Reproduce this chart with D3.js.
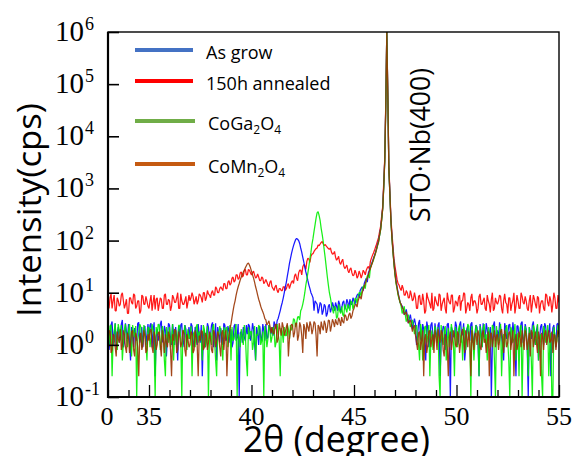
<!DOCTYPE html>
<html>
<head>
<meta charset="utf-8">
<script src="https://cdn.jsdelivr.net/npm/d3@7"></script>
<style>
  html, body { margin: 0; padding: 0; background: #fff; }
  svg { display: block; }
</style>
</head>
<body>
<svg id="chart" width="573" height="456"></svg>
<script>
// ---------- DATA ----------
// Main samples: 2θ = 33.0 .. 55.0 in 0.1° steps (221 values)
// Mid samples:  2θ = 33.05 .. 54.95 in 0.1° steps (220 values)
const thetaStart = 33.0;
const thetaStep = 0.1;

const asGrown = [
  2,1.2,2.8,1.5,0.9,2.2,1.4,3,1.1,1.8,
  2.5,0.5,1.6,2.1,1.2,2.7,1.4,0.9,2.3,1.6,
  1.3,2.6,1.8,0.25,2,1.5,2.9,1.1,1.9,1.4,
  2.4,1,1.7,2.2,0.5,1.5,2.6,1.2,2,1.6,
  1.3,2.3,0.9,1.8,2.5,1.1,0.25,1.9,1.4,2.2,
  1.5,2.7,1.2,0.5,1.7,2.1,1,2.4,1.3,1.8,
  2,1.1,2.5,1.4,0.1,1.8,2.2,1.2,1.6,2.3,
  1.5,2,0.5,1.7,2.3,1.2,1.9,2.5,1.4,2.1,
  2.2,2.8,2,3.2,4.5,6.5,10,16,27,45,
  68,92,110,100,72,48,31,21,14,10,
  8,7,6,5,6,4.5,5.5,4,6,5,
  5.5,6.5,4.5,6,5,7,5.5,6.5,7.5,6,
  7,8,9.5,11,13,15,19,24,31,40,
  52,70,100,170,420,3500,1000000,2500,250,65,
  24,13,8,6,5,4.2,3.6,3.2,2.8,2.6,
  2.5,1.5,3,1.2,2,0.5,2.2,1.4,2.7,1.1,
  1.8,2.4,0.25,1.6,2.1,1.3,2.6,0.1,1.9,1.5,
  2.3,1.2,2.8,1.6,0.5,2,1.4,2.5,1.1,1.7,
  2.2,0.25,1.8,2.6,1.3,2,1.5,0.1,2.4,1.2,
  1.9,2.7,1.4,0.5,2.1,1.6,2.5,1.1,1.8,0.25,
  2.3,1.5,2.8,1.2,2,0.1,1.7,2.4,1.3,1.9,
  0.5,2.2,1.6,2.6,1.1,1.8,0.25,2.1,1.4,2.5,
  1.7
];
const asGrownMid = [
  0.8,2.4,1,2.6,1.7,1.1,2.5,0.9,2.6,1.3,
  1.2,2.2,0.9,1.5,2.6,1.1,2.2,1.9,1,2.5,
  2.4,0.9,2.7,1.4,1.2,2.5,1.2,2.3,0.6,2.6,
  1.3,2.5,1,1.4,2.3,2.4,0.9,2.4,1.1,2.2,
  2.6,1.2,2.2,1,1.6,2.4,1.5,0.9,2.6,1.3,
  2.4,0.9,2.6,2.2,1.1,1.4,2.6,1.2,2.3,1.1,
  0.9,2.3,1.2,2.5,1.7,1.1,1.4,2.4,2.5,1.2,
  2.6,1.1,2.2,1,1.4,2.5,1.2,1.3,2.4,1.6,
  1.5,2.4,2.9,3.8,5.5,8,13,21,36,56,
  80,104,106,88,60,39,25,17,12,9,
  4.5,6.5,4,6.5,3.8,6,3.5,5.5,4.2,6.5,
  4.5,5.5,7,4.2,6.5,4.8,7.5,5,6,8,
  6,9,8,12,11,17,16,27,35,46,
  60,85,130,260,1100,40000,60000,800,120,38,
  17,10,6.5,5.5,3.8,4.8,2.6,3.8,2,3.2,
  1,2.6,1.3,2.5,1.1,2.8,0.9,2.4,1.5,2.6,
  1.2,2.7,1.1,2.3,0.8,2.5,1.2,2.2,1.4,2.8,
  1,2.4,1.5,2.6,0.9,2.3,1.2,2.7,1.3,2.4,
  1.1,2.5,0.9,1.6,2.6,1.2,2.2,1,2.8,1.4,
  1.2,2.2,0.9,2.6,1.3,2.4,1,2.7,1.2,2.3,
  1.4,2.6,1.1,2.5,0.9,2.2,1.3,2.8,1,2.4,
  1.2,2.5,1,2.3,1.5,2.6,1.1,2.4,0.9,2.6
];

const annealed150h = [
  6,8,5,9,4.5,7,6,10,5,7.5,
  4,8,6,9,5.5,7,4.5,8.5,6,7,
  5,9,6.5,4.8,8,6,7.5,5,9.5,6,
  7,5.5,8,6.5,10,5,7,6,8.5,6.5,
  7,10,6,8.5,7,9,6.5,10,8,9.5,
  8,11,9,12,10,13,11,15,12,17,
  15,20,17,22,19,25,21,28,22,27,
  22,26,19,23,17,20,15,18,14,16,
  13,11,14,10,12,11,13,12,15,14,
  17,21,19,24,27,31,33,40,44,50,
  56,66,72,80,92,86,84,74,68,60,
  56,48,45,38,40,33,31,27,28,24,
  22,24,21,23,22,25,27,32,40,52,
  65,85,115,190,450,3800,1000000,2700,280,80,
  32,18,14,11,12,9,10,8,9,7.5,
  8,5,9,6,7,4.5,8,6,10,5,
  7,5.5,9,6,8,4,7.5,6,9,5,
  6.5,8,4.5,7,9.5,5,6,8,5.5,7,
  4,8.5,6,7,5,9,6,7.5,4.5,8,
  6,9,5,7,6.5,4,8,6,10,5.5,
  7,5,8.5,6,7,4.5,9,6,7.5,5,
  8,6,7,4.5,9,5.5,7,6,8,5,
  6.5
];
const annealed150hMid = [
  5,9.5,7,4.5,8,5.5,9,7,6,4,
  8,6.5,9.5,5,7,4,9,6,8.5,5.5,
  7,4.5,9,7.5,4.5,8,5,9,6,7.5,
  4.5,9,6.5,8,5,9.5,6,7,5,9,
  8,8.5,7,6,9.5,8,10,7,11,9,
  10,9,13,10,12,12,15,12,16,14,
  19,16,22,18,24,20,27,22,28,24,
  24,22,20,20,17,19,16,16,13,17,
  12,13,11,12,11,13,11,14,12,16,
  15,23,17,27,22,35,28,46,38,55,
  62,70,82,86,96,80,78,70,72,55,
  62,42,50,35,44,29,34,24,30,21,
  27,19,26,19,27,22,30,28,46,58,
  75,100,150,300,1300,45000,70000,900,140,45,
  24,15,12,14,9,11,8,11,7,10,
  5,8.5,6,9.5,4,10,7,5,4.5,8.5,
  6,9.5,4.5,7,5,10,6.5,9,4.2,7,
  5.5,9,7,10,4,6.5,4.5,9.5,7,6,
  5,9.5,6,8,4.5,7,4.2,10,5,6.5,
  7,8.5,4,9.5,6,8,4.5,7,4,9,
  5,10,6.5,8.5,5,7,4.2,9,6,8.5,
  4,7,5,9.5,6.5,8.5,4.2,10,5,9
];

const coGa2O4 = [
  1.6,2.3,0.25,1.8,1.2,2.5,1.5,0.5,2,1.3,
  1.9,1.1,2.4,1.4,0.1,1.7,2.2,1.2,1.8,0.5,
  2.1,1.4,1.9,0.1,1.6,2.4,1.1,1.8,0.25,1.5,
  2.2,1.3,0.5,1.9,1.5,2.3,0.1,1.7,1.2,2,
  1.4,0.25,1.8,2.2,1.1,1.6,0.5,2,1.3,0.1,
  1.7,2.1,1.2,0.25,1.5,1.9,0.5,1.3,2.2,1.6,
  0.5,1.2,1.8,0.1,1.4,2,1,1.6,0.25,1.3,
  1.8,1.1,0.5,1.5,2.1,1.2,0.1,1.7,1.3,1.9,
  1.4,2,1.1,1.6,0.25,1.8,2.2,1.5,2,2.4,
  2.2,3,2.6,3.5,4.5,6,10,18,32,60,
  110,200,340,300,170,95,45,20,10,6,
  4,5,3.5,4.5,5.5,3.5,5,6,4.5,6.5,
  6,7.5,8.5,10,12,14,18,22,30,38,
  50,68,95,160,400,3300,1000000,2400,240,60,
  22,12,7.5,5.5,4.5,3.8,3.2,2.8,2.5,2.3,
  2,1.3,0.5,1.8,1.1,2.3,1.5,0.25,1.9,1.2,
  1.6,2.2,0.1,1.4,1.8,0.5,2.1,1.3,1.7,0.25,
  1.5,2,1.1,0.5,1.8,1.4,2.3,0.1,1.6,1.2,
  1.9,0.25,1.5,2.1,1.1,0.5,1.7,1.3,2.2,0.1,
  1.4,1.8,0.25,1.6,2,1.2,0.1,1.9,1.3,0.5,
  1.7,2.1,0.1,1.4,1.8,0.25,1.5,0.1,2,1.2,
  0.5,1.6,0.1,1.9,1.3,0.25,1.7,0.1,1.5,1.2,
  1.4
];
const coGa2O4Mid = [
  1,2.4,1.3,2.6,0.8,1.9,2.4,1.1,2.5,0.9,
  2.5,0.6,1.7,2.3,1.2,2.5,0.9,2.4,1.1,2.2,
  0.9,2.5,1,2.2,2.5,0.8,2.3,0.5,2.2,1.1,
  0.9,2.5,1.6,0.9,2.4,1.2,1.9,2.4,0.8,1.3,
  2.3,1.5,0.9,2.5,1.8,1.2,2.4,0.9,2.3,1.6,
  1,2.5,0.5,1.8,2.3,1.1,2.2,2,0.9,2.4,
  2.2,1.3,2.5,1.6,0.9,1.4,2.4,0.5,2.2,1.8,
  0.8,2.3,1.6,2.4,1,1.8,2.3,0.9,2.4,1.1,
  2.2,0.9,2.5,1.2,2.1,1.1,1.5,2.4,1.3,1.9,
  3.2,2.2,3.4,3,5,7.5,14,24,45,85,
  150,270,360,240,130,65,30,14,8,4.8,
  5.5,3.2,6,4,3.8,6,4.2,5.2,7,4.8,
  7.8,6.2,10,8.5,13,12,21,19,34,42,
  58,80,125,250,1000,35000,55000,750,110,35,
  15,9,6.5,4,5.5,2.8,3.8,2.2,3,1.6,
  2.4,1,2.5,0.5,2.2,1.1,2.4,1.3,0.8,2.3,
  1.1,0.25,2.4,1,2.3,1.2,0.9,2.5,1.1,2.2,
  0.9,2.4,1.6,2.2,0.8,2.5,1.1,2.3,0.5,2.4,
  1.2,2.3,0.9,2.5,1.6,2.2,0.9,2.4,0.5,2.3,
  1,2.5,1.2,0.9,2.4,0.5,2.2,1.1,2.5,1.3,
  0.25,2.4,1.1,2.3,0.9,2.2,0.5,2.4,1,2.5,
  1.2,0.25,2.3,1.1,2.4,0.9,0.1,2.2,1,2.4
];

const coMn2O4 = [
  1.2,1.8,0.8,1.5,0.6,1.3,2,1,1.6,0.7,
  1.4,1.1,1.9,0.6,1.3,0.25,1.7,1,1.5,0.8,
  1.2,2,0.7,1.4,1,1.8,0.6,1.3,1.6,0.9,
  1.5,0.25,1.2,1.9,0.8,1.4,1.1,1.7,0.6,1.3,
  1,1.6,0.8,1.4,0.25,1.2,1.8,0.9,1.5,1.1,
  1.3,0.7,1.7,1.2,1.5,0.6,1.9,1.4,0.25,1.5,
  2.5,4.5,7,11,15,20,25,30,36,34,
  26,19,13,9,6.5,4.8,3.8,3,2.6,2.3,
  2.2,1.6,2.5,1.3,2,2.7,1.5,2.2,0.6,1.9,
  2.4,1.7,2.6,1.5,2.3,0.7,2.1,2.7,1.8,2.4,
  2,2.6,0.6,2.2,2.8,1.9,2.5,2.1,2.9,2.3,
  2.7,3.1,2.4,2.9,3.4,2.6,3.6,3.1,4.1,3.6,
  5,6,7,8.5,10,13,17,22,29,38,
  50,68,95,165,410,3400,1000000,2450,245,62,
  23,12.5,8,6,4.8,4,3.3,2.8,2.4,2.2,
  1.5,0.8,1.8,1.2,0.25,1.6,1,1.9,1.3,0.7,
  1.4,2,1.1,1.7,0.6,1.3,0.25,1.8,1.2,1.5,
  0.9,1.6,1.1,2,0.7,1.4,1.8,0.25,1.2,1.6,
  1,1.5,0.8,1.9,1.3,1.1,0.25,1.7,1.4,0.9,
  1.6,1.2,2,0.7,1.5,1.1,1.8,1.3,0.25,1.6,
  1,1.4,1.9,0.8,1.5,1.2,0.6,1.7,1.3,1.1,
  1.8,0.25,1.4,1.6,1,1.9,1.2,0.7,1.5,1.3,
  1.6
];
const coMn2O4Mid = [
  1.9,0.7,1.6,0.9,1.8,1.1,0.8,1.9,0.9,1.7,
  0.7,1.8,0.8,1.7,0.9,1.4,0.8,1.9,0.7,1.6,
  1.9,0.9,1.8,0.8,1.7,1,1.9,0.7,1.1,1.8,
  0.8,1.6,2,0.7,1.8,0.9,1.9,0.8,1.6,0.9,
  1.8,0.7,1.9,1,1.5,1.9,0.8,1.7,0.8,1.8,
  0.8,1.9,0.9,1.8,0.9,1.7,0.8,1.9,0.9,2,
  3.4,5.8,9,13,17.5,22,27,33,37,30,
  22,16,11,7.5,5.5,4.3,3.2,2.4,2.9,1.7,
  1.7,2.4,1.1,2.6,1.5,2.2,1.8,2.6,1.3,2.5,
  1.4,2.6,1.2,2.7,1.5,2.5,1.3,2.2,2.8,1.6,
  2.8,1.5,2.4,1.6,2.2,2.9,1.7,3,1.8,3.1,
  2.2,2.6,3.3,2.3,2.8,3.8,2.9,3.8,3.2,4.5,
  5.8,5.3,8,7.5,11.5,15,19,26,33,44,
  57,82,130,255,1050,38000,58000,780,115,36,
  16,9.5,6.5,5.2,3.8,4.3,2.6,3,1.8,2.4,
  1.1,1.7,0.8,1.9,1.3,0.7,1.8,0.9,1.6,1.9,
  0.8,1.5,1.9,0.8,1.6,0.9,1.4,0.8,1.9,1,
  1.8,0.7,1.7,1.3,1.9,0.9,1.1,1.9,0.8,1.7,
  1.9,0.9,1.6,1.1,0.7,1.8,1.6,0.9,1.9,1.5,
  0.8,1.8,1.3,1.9,0.9,1.7,0.8,1.9,1.2,0.8,
  1.8,0.9,1.2,1.9,0.8,1.7,1.9,0.9,1.8,0.7,
  1.3,1.7,0.8,1.9,1.4,1.1,1.8,1.6,0.8,1.9
];

const seriesNames = ["As grow", "150h annealed", "CoGa2O4", "CoMn2O4"];
const yTickValues = [1e-1, 1e0, 1e1, 1e2, 1e3, 1e4, 1e5, 1e6];
const yTickExponents = ["-1", "0", "1", "2", "3", "4", "5", "6"];
const xTickValues = d3.range(33, 56);      // 33 .. 55, every degree
const xMajorLabels = {33: "0", 35: "35", 40: "40", 45: "45", 50: "50", 55: "55"};
const peakLabel = "STO·Nb(400)";

// ---------- checks ----------
[[asGrown, asGrownMid], [annealed150h, annealed150hMid], [coGa2O4, coGa2O4Mid], [coMn2O4, coMn2O4Mid]]
  .forEach((p, k) => {
    if (p[0].length !== 221) throw new Error(seriesNames[k] + " main length " + p[0].length);
    if (p[1].length !== 220) throw new Error(seriesNames[k] + " mid length " + p[1].length);
  });

// ---------- layout ----------
const svg = d3.select("#chart");
const L = 108, R = 559, T = 32, B = 397;
const x = d3.scaleLinear().domain([33, 55]).range([L, R]);
const y = d3.scaleLog().domain([0.1, 1e6]).range([B, T]);

svg.append("rect").attr("width", 573).attr("height", 456).attr("fill", "#fff");
svg.append("defs").append("clipPath").attr("id", "plotclip")
  .append("rect").attr("x", L).attr("y", T).attr("width", R - L).attr("height", B - T);

// ---------- data lines ----------
function toPoints(main, mid) {
  const pts = [];
  main.forEach((v, i) => {
    pts.push([thetaStart + i * thetaStep, v]);
    if (i < mid.length) pts.push([thetaStart + (i + 0.5) * thetaStep, mid[i]]);
  });
  return pts;
}
const line = d3.line().x(d => x(d[0])).y(d => y(Math.max(d[1], 0.1)));

const drawOrder = [
  {main: annealed150h, mid: annealed150hMid, color: "#ff0000"},
  {main: asGrown, mid: asGrownMid, color: "#0000ff"},
  {main: coGa2O4, mid: coGa2O4Mid, color: "#00ee00"},
  {main: coMn2O4, mid: coMn2O4Mid, color: "#993300"}
];
const gLines = svg.append("g").attr("clip-path", "url(#plotclip)");
drawOrder.forEach(s => {
  gLines.append("path")
    .attr("d", line(toPoints(s.main, s.mid)))
    .attr("fill", "none")
    .attr("stroke", s.color)
    .attr("stroke-width", 1.25)
    .attr("stroke-linejoin", "bevel")
    .attr("stroke-opacity", 0.9);
});

// ---------- axes ----------
const xAxis = d3.axisBottom(x).tickValues(xTickValues).tickSize(-7).tickFormat("");
const gx = svg.append("g").attr("transform", `translate(0,${B})`).call(xAxis);
gx.select(".domain").remove();
gx.selectAll(".tick line")
  .attr("stroke", "#000").attr("stroke-width", 1.3)
  .attr("y2", d => (d % 5 === 0 ? -12 : -7));

svg.append("g").selectAll("text").data(xTickValues.filter(d => xMajorLabels[d] !== undefined))
  .join("text")
  .attr("x", d => x(d) - (d === 33 ? 1 : 0))
  .attr("y", 425)
  .attr("text-anchor", "middle")
  .attr("font-family", "'Liberation Serif', 'Times New Roman', serif")
  .attr("font-size", 26)
  .attr("fill", "#000")
  .text(d => xMajorLabels[d]);

const yAxis = d3.axisLeft(y).tickValues(yTickValues).tickSize(-11).tickFormat("");
const gy = svg.append("g").attr("transform", `translate(${L},0)`).call(yAxis);
gy.select(".domain").remove();
gy.selectAll(".tick line").attr("stroke", "#000").attr("stroke-width", 1.6);

const yl = svg.append("g").selectAll("text").data(yTickValues).join("text")
  .attr("x", 55)
  .attr("y", d => y(d) + 9)
  .attr("font-family", "'Liberation Serif', 'Times New Roman', serif")
  .attr("fill", "#000");
yl.append("tspan").attr("font-size", 29).text("10");
yl.append("tspan").attr("font-size", 18).attr("dx", 1).attr("dy", -11)
  .text((d, i) => yTickExponents[i]);

// frame
svg.append("rect").attr("x", L).attr("y", T).attr("width", R - L).attr("height", B - T)
  .attr("fill", "none").attr("stroke", "#000").attr("stroke-width", 1.4);
svg.append("line").attr("x1", L).attr("x2", L).attr("y1", T).attr("y2", B + 1)
  .attr("stroke", "#000").attr("stroke-width", 2.2);
svg.append("line").attr("x1", L - 1).attr("x2", R).attr("y1", B).attr("y2", B)
  .attr("stroke", "#000").attr("stroke-width", 2.2);

// ---------- titles ----------
const sans = "'Open Sans', 'Noto Sans', sans-serif";
svg.append("text")
  .attr("x", 243).attr("y", 452)
  .attr("font-family", sans).attr("font-size", 36)
  .attr("textLength", 187).attr("lengthAdjust", "spacingAndGlyphs")
  .attr("fill", "#000")
  .text("2θ (degree)");

svg.append("text")
  .attr("transform", "translate(41,210) rotate(-90)")
  .attr("text-anchor", "middle")
  .attr("font-family", sans).attr("font-size", 33)
  .attr("textLength", 214).attr("lengthAdjust", "spacingAndGlyphs")
  .attr("fill", "#000")
  .text("Intensity(cps)");

svg.append("text")
  .attr("transform", "translate(430,145) rotate(-90)")
  .attr("text-anchor", "middle")
  .attr("font-family", sans).attr("font-size", 27)
  .attr("textLength", 154).attr("lengthAdjust", "spacingAndGlyphs")
  .attr("fill", "#000")
  .text(peakLabel);

// ---------- legend ----------
const legendColors = ["#4472c4", "#ff0000", "#70ad47", "#c55a11"];
const legendLineY = [50, 81, 121, 164];
const gLeg = svg.append("g");
seriesNames.forEach((name, i) => {
  gLeg.append("line")
    .attr("x1", 135).attr("x2", i < 2 ? 193 : 195)
    .attr("y1", legendLineY[i]).attr("y2", legendLineY[i])
    .attr("stroke", legendColors[i]).attr("stroke-width", 4);
  const t = gLeg.append("text")
    .attr("x", i < 2 ? 206 : 208).attr("y", legendLineY[i] + 9)
    .attr("font-family", sans).attr("font-size", 18).attr("fill", "#000");
  const m = name.match(/^(Co(?:Ga|Mn))2O4$/);
  if (m) {
    t.append("tspan").text(m[1]);
    t.append("tspan").attr("font-size", 12).attr("dy", 4).text("2");
    t.append("tspan").attr("dy", -4).text("O");
    t.append("tspan").attr("font-size", 12).attr("dy", 4).text("4");
  } else {
    t.text(name);
  }
});
</script>
</body>
</html>
